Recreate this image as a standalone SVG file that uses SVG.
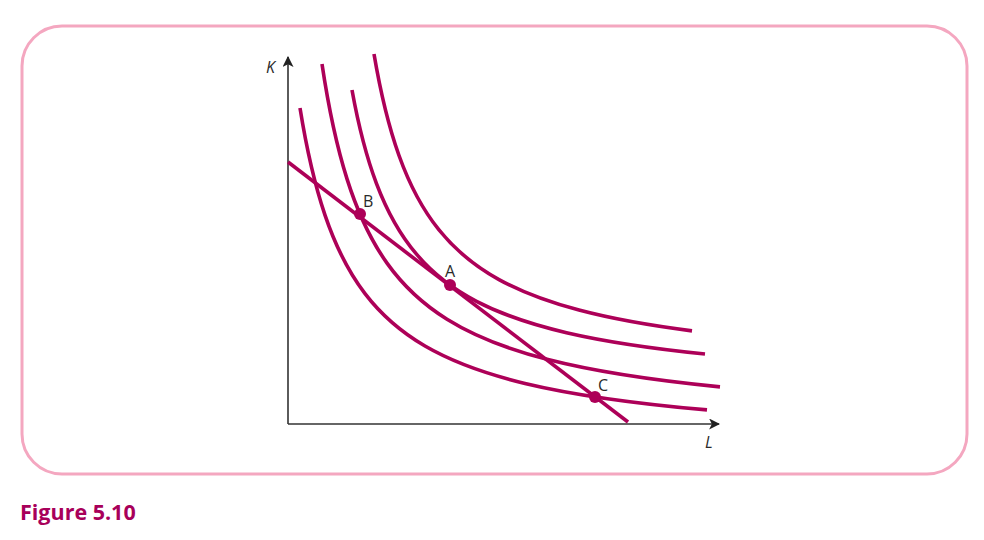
<svg xmlns="http://www.w3.org/2000/svg" width="984" height="540" viewBox="0 0 984 540">
<defs>
<style>
.curve{fill:none;stroke:#ad0058;stroke-width:3.6;stroke-linecap:butt}
.axis{fill:none;stroke:#333;stroke-width:1.6}
.dot{fill:#ad0058}
</style>
<marker id="arr" viewBox="0 0 10 10" refX="9" refY="5" markerWidth="11" markerHeight="11" markerUnits="userSpaceOnUse" orient="auto">
<path d="M0,0 L10,5 L0,10 L2.5,5 Z" fill="#222"/>
</marker>
</defs>
<rect x="22" y="26" width="945" height="448" rx="40" ry="40" fill="#fff" stroke="#f4a7c0" stroke-width="3"/>
<g id="axes">
<path class="axis" d="M288,424 L288,57" marker-end="url(#arr)"/>
<path class="axis" d="M288,424 L719,424" marker-end="url(#arr)"/>
<g font-family="'Open Sans','Noto Sans',sans-serif" font-size="16" fill="#2a2a2a" font-style="italic">
<text x="266" y="73">K</text>
<text x="705" y="448">L</text>
</g>
</g>
<g id="connectors">
<path id="iso1" class="curve" d="M300,108 Q310.2,171.4 325,215.1 Q341,262.2 365,293.6 Q389,325 425,346 Q464.1,368.7 525,383.4 Q593.7,399.9 707,409.9"/>
<path id="iso2" class="curve" d="M322,64 Q332.2,132.1 347,178.85 Q363,229.4 387,263.1 Q411,296.8 447,319.2 Q486.1,343.6 547,359.3 Q613.1,376.4 720,386.9"/>
<path id="iso3" class="curve" d="M352,90 Q362,145.2 376.5,183.6 Q392.5,226 416.5,254.2 Q440.5,282.5 476.5,301.3 Q512.5,320.1 566.5,332.7 Q621.6,345.5 705,354"/>
<path id="iso4" class="curve" d="M374,54 Q384.2,114.1 399,155.5 Q415,200.2 439,229.9 Q463,259.7 499,279.6 Q531.7,297.6 579,310.1 Q625.4,322.4 692,330.9"/>
<path id="isocost" class="curve" d="M288,162 L628,422"/>
</g>
<g font-family="'Open Sans','Noto Sans',sans-serif" font-size="16" fill="#2a2a2a">
<g id="B"><circle class="dot" cx="360" cy="214" r="6"/><text x="363" y="207">B</text></g>
<g id="A"><circle class="dot" cx="450" cy="285" r="6"/><text x="445" y="277">A</text></g>
<g id="C"><circle class="dot" cx="595" cy="397" r="6"/><text x="598" y="391">C</text></g>
</g>
<text x="20" y="520" font-family="'Open Sans','Noto Sans',sans-serif" font-size="21.5" font-weight="bold" fill="#a8005a">Figure 5.10</text>
</svg>
